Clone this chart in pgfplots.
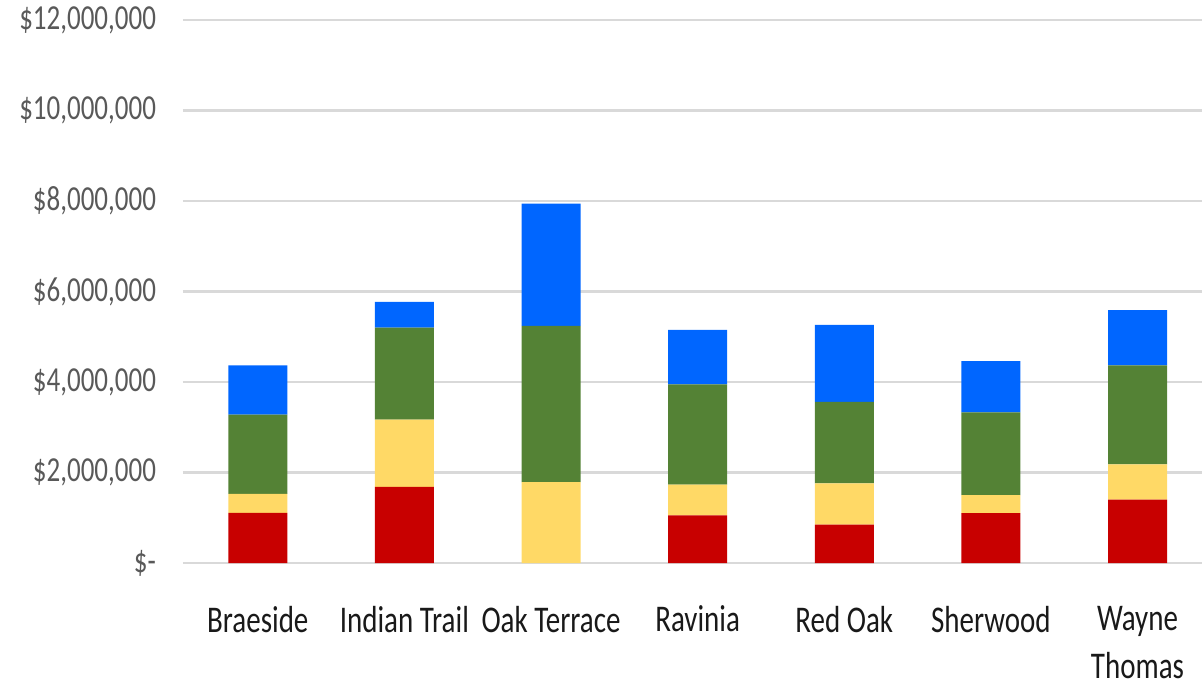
\documentclass[border=0pt]{standalone}
\usepackage{fontspec}
\setmainfont{Carlito}
\usepackage{pgfplots}
\pgfplotsset{compat=1.18}
\usepackage{pgfplotstable}

\definecolor{cred}{HTML}{C80000}
\definecolor{cyellow}{HTML}{FFD966}
\definecolor{cgreen}{HTML}{548235}
\definecolor{cblue}{HTML}{0066FF}
\definecolor{cgrid}{HTML}{D9D9D9}
\definecolor{ctick}{HTML}{595959}

% values in millions of dollars, segments bottom to top
\pgfplotstableread{
x red yellow green blue
0 1.11 0.42 1.75 1.09
1 1.68 1.49 2.03 0.57
2 0.00 1.79 3.45 2.70
3 1.05 0.68 2.22 1.20
4 0.85 0.91 1.80 1.70
5 1.10 0.40 1.83 1.13
6 1.40 0.78 2.19 1.22
}\costs

\begin{document}
\begin{tikzpicture}
\begin{axis}[
    name=ax,
    width=509.5pt, height=271.5pt,
    scale only axis,
    ybar stacked,
    bar width=29.5pt,
    xmin=-0.51, xmax=6.44,
    ymin=0, ymax=12,
    axis line style={draw=none},
    major tick length=0pt,
    ymajorgrids,
    grid style={cgrid, line width=1.4pt},
    ytick={0,2,...,12},
    yticklabels={\$-, {\$2,000,000}, {\$4,000,000}, {\$6,000,000}, {\$8,000,000}, {\$10,000,000}, {\$12,000,000}},
    yticklabel style={font=\fontsize{13.5}{16}\selectfont, text=ctick, yscale=1.3, xshift=-10pt},
    xtick={0,...,6},
    xticklabels={Braeside, Indian Trail, Oak Terrace, Ravinia, Red Oak, Sherwood, {Wayne\\Thomas}},
    xticklabel style={font=\fontsize{14.5}{18.5}\selectfont, text=black!90, align=center, yscale=1.3, yshift=-13pt},
    clip=false,
]
\addplot[fill=cred, draw=none] table[x=x, y=red] {\costs};
\addplot[fill=cyellow, draw=none] table[x=x, y=yellow] {\costs};
\addplot[fill=cgreen, draw=none] table[x=x, y=green] {\costs};
\addplot[fill=cblue, draw=none] table[x=x, y=blue] {\costs};
\coordinate (sw) at (rel axis cs:0,0);
\coordinate (ne) at (rel axis cs:1,1);
\end{axis}
\pgfresetboundingbox
\useasboundingbox ([xshift=-91.5pt,yshift=-63.5pt]sw) rectangle ([yshift=10pt]ne);
\end{tikzpicture}
\end{document}
